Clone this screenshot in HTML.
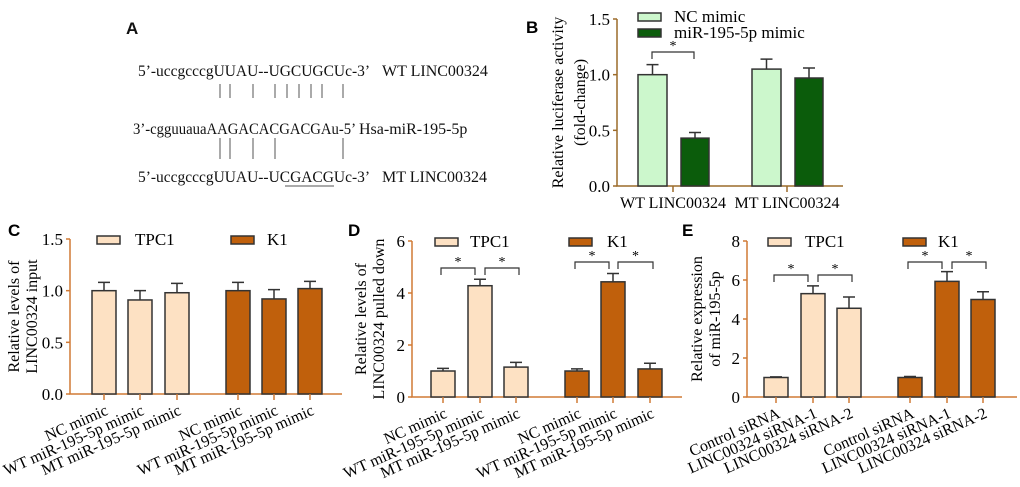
<!DOCTYPE html>
<html><head><meta charset="utf-8"><style>
body{margin:0;background:#fff}
svg{display:block;font-family:"Liberation Serif",serif}
.lbl{font-family:"Liberation Sans",sans-serif;font-weight:bold;font-size:17px}
</style></head><body>
<svg id="fig" width="1020" height="487" viewBox="0 0 1020 487">
<g font-size="16" fill="#111">
<text class="lbl" x="126" y="34">A</text>
<text x="138" y="76" textLength="232" lengthAdjust="spacingAndGlyphs">5’-uccgcccgUUAU--UGCUGCUc-3’</text>
<text x="382" y="76">WT LINC00324</text>
<text x="133" y="134" textLength="223" lengthAdjust="spacingAndGlyphs">3’-cgguuauaAAGACACGACGAu-5’</text>
<text x="359" y="134">Hsa-miR-195-5p</text>
<text x="138" y="182" textLength="232" lengthAdjust="spacingAndGlyphs">5’-uccgcccgUUAU--UCGACGUc-3’</text>
<text x="382" y="182">MT LINC00324</text>
<g stroke="#555" stroke-width="1">
<path d="M220 84V98M230 84V98M253 84V98M275 84V98M287 84V98M299 84V98M311 84V98M322 84V98M343 84V98"/>
<path d="M220 138V159M230 138V159M253 138V159M275 138V159M343 138V159"/>
<path d="M285 186H334"/>
</g></g>
<g id="pB"></g>
<g id="pC"></g>
<g id="pD"></g>
<g id="pE"></g>
</svg>
<script>
const NS="http://www.w3.org/2000/svg";
// Panel B data
const bGroups=["WT LINC00324","MT LINC00324"];
const bNC=[1.0,1.05], bNCerr=[0.09,0.09];
const bMiR=[0.43,0.97], bMiRerr=[0.05,0.09];
const bTicks=["0.0","0.5","1.0","1.5"];
// Panel C data
const cCats=["NC mimic","WT miR-195-5p mimic","MT miR-195-5p mimic"];
const cTPC1=[1.0,0.91,0.98], cTPC1err=[0.08,0.09,0.09];
const cK1=[1.0,0.92,1.02], cK1err=[0.08,0.09,0.07];
const cTicks=["0.0","0.5","1.0","1.5"];
// Panel D data
const dTPC1=[1.0,4.28,1.15], dTPC1err=[0.1,0.25,0.18];
const dK1=[1.0,4.43,1.08], dK1err=[0.08,0.32,0.22];
const dTicks=["0","2","4","6"];
// Panel E data
const eCats=["Control siRNA","LINC00324 siRNA-1","LINC00324 siRNA-2"];
const eTPC1=[1.0,5.3,4.55], eTPC1err=[0.03,0.4,0.58];
const eK1=[1.0,5.93,5.0], eK1err=[0.05,0.5,0.4];
const eTicks=["0","2","4","6","8"];

function mk(p,tag,a,txt){const e=document.createElementNS(NS,tag);for(const k in a)e.setAttribute(k,a[k]);if(txt!=null)e.textContent=txt;p.appendChild(e);return e;}

function axes(g,o){
  const y=v=>o.y0-(v/o.max)*(o.y0-o.y1);
  const ax=mk(g,'path',{d:`M${o.x0} ${o.y1}V${o.y0}H${o.xe}`,stroke:o.ac,fill:'none','stroke-width':1.5});
  
  o.ticks.forEach(t=>{const v=+t;
    mk(g,'path',{d:`M${o.x0-4} ${y(v)}H${o.x0}`,stroke:o.ac,'stroke-width':1.5});
    const tx=mk(g,'text',{x:o.x0-7,y:y(v)+6,'text-anchor':'end','font-size':17},t);
    
  });
  const tt=mk(g,'text',{transform:`translate(${o.tx1},${(o.y0+o.y1)/2}) rotate(-90)`,'text-anchor':'middle','font-size':16},o.t1);
  
  const tt2=mk(g,'text',{transform:`translate(${o.tx2},${(o.y0+o.y1)/2}) rotate(-90)`,'text-anchor':'middle','font-size':16},o.t2);
  
  const L=mk(g,'text',{x:o.lx,y:o.ly,class:'lbl'},o.label);
  
  return y;
}
function bar(g,x,w,v,err,y,y0,fill,name){
  const r=mk(g,'rect',{x:x,y:y(v),width:w,height:y0-y(v),fill:fill,stroke:'#333','stroke-width':1.5});
  
  const c=x+w/2,t=y(v+err);
  const e=mk(g,'path',{d:`M${c} ${y(v)}V${t}M${c-6} ${t}H${c+6}`,stroke:'#333','stroke-width':1.5,fill:'none'});
  
}
function bracket(g,a,b,yy){
  const p=mk(g,'path',{d:`M${a} ${yy+7}V${yy}H${b}V${yy+7}`,stroke:'#333',fill:'none','stroke-width':1.2});
  
  const s=mk(g,'text',{x:(a+b)/2,y:yy-2,'text-anchor':'middle','font-size':14},'*');
  
}
function legend(g,x,y,fill,txt,tx){
  const r=mk(g,'rect',{x:x,y:y,width:23,height:8,fill:fill,stroke:'#333','stroke-width':1.5});
  
  const t=mk(g,'text',{x:tx,y:y+9,'font-size':17},txt);
  
}

// Panel B
(function(){
  const g=document.getElementById('pB');
  const o={x0:617,xe:843,y0:186,y1:19,max:1.5,ticks:bTicks,ac:'#9c6b2a',tx1:563,tx2:585,t1:'Relative luciferase activity',t2:'(fold-change)',lx:526,ly:33,label:'B'};
  const y=axes(g,o);
  const cen=[673,787];
  bGroups.forEach((n,i)=>{
    bar(g,cen[i]-35,29,bNC[i],bNCerr[i],y,o.y0,'#ccf7cc','bar-nc-'+i);
    bar(g,cen[i]+8,28,bMiR[i],bMiRerr[i],y,o.y0,'#0b5c0b','bar-mir-'+i);
    mk(g,'path',{d:`M${cen[i]} ${o.y0}V${o.y0+6}`,stroke:o.ac,'stroke-width':1.5});
    const t=mk(g,'text',{x:cen[i],y:208,'text-anchor':'middle','font-size':16},n);
    
  });
  bracket(g,652,694,52);
  legend(g,638,13,'#ccf7cc','NC mimic',674);
  legend(g,638,29,'#0b5c0b','miR-195-5p mimic',674);
})();

function grouped(id,o,cats,tv,te,kv,ke,cen,br){
  const g=document.getElementById(id);
  const y=axes(g,o);
  const all=[...cats,...cats];
  cen.forEach((c,i)=>{
    const k=i>=3,j=i%3;
    bar(g,c-12,24,k?kv[j]:tv[j],k?ke[j]:te[j],y,o.y0,k?'#c0600c':'#fde1c3',(k?'bar-k1-':'bar-tpc1-')+j);
    mk(g,'path',{d:`M${c} ${o.y0}V${o.y0+6}`,stroke:o.ac,'stroke-width':1.5});
    const t=mk(g,'text',{transform:`translate(${c+5},${o.y0+20}) rotate(-24)`,'text-anchor':'end','font-size':16},all[i]);
    
  });
  br.forEach(b=>bracket(g,b[0],b[1],b[2]));
  legend(g,o.lg[0],o.y1-3,'#fde1c3','TPC1',o.lg[1]);
  legend(g,o.lg[2],o.y1-3,'#c0600c','K1',o.lg[3]);
}
grouped('pC',{x0:70,xe:342,y0:394,y1:239,max:1.5,ticks:cTicks,ac:'#d07a35',tx1:19,tx2:37,t1:'Relative levels of',t2:'LINC00324 input',lx:8,ly:236,label:'C',lg:[97,135,231,267]},
  cCats,cTPC1,cTPC1err,cK1,cK1err,[104,140,177,238,274,310],[]);
grouped('pD',{x0:412,xe:682,y0:397,y1:241,max:6,ticks:dTicks,ac:'#d07a35',tx1:366,tx2:384,t1:'Relative levels of',t2:'LINC00324 pulled down',lx:348,ly:236,label:'D',lg:[435,470,569,607]},
  cCats,dTPC1,dTPC1err,dK1,dK1err,[443,480,516,577,613,650],[[441,475,268],[485,519,268],[575,609,262],[618,653,262]]);
grouped('pE',{x0:747,xe:1017,y0:397,y1:241,max:8,ticks:eTicks,ac:'#d07a35',tx1:702,tx2:720,t1:'Relative expression',t2:'of miR-195-5p',lx:682,ly:236,label:'E',lg:[768,805,903,938]},
  eCats,eTPC1,eTPC1err,eK1,eK1err,[776,813,849,910,947,983],[[774,808,275],[818,852,275],[908,942,262],[952,986,262]]);
</script>
</body></html>
